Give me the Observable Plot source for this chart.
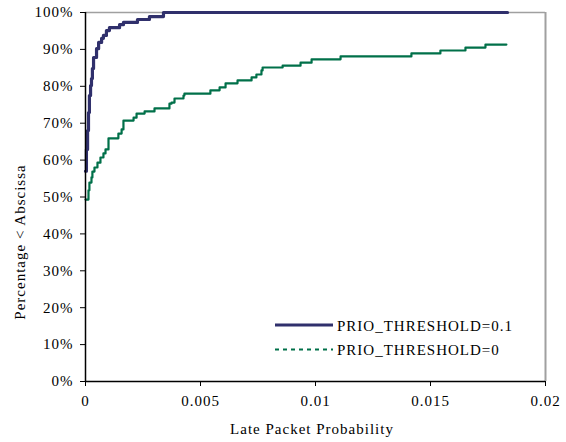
<!DOCTYPE html>
<html><head><meta charset="utf-8">
<script src="https://cdn.jsdelivr.net/npm/d3@7"></script>
<script src="https://cdn.jsdelivr.net/npm/@observablehq/plot@0.6"></script>
<style>
body{margin:0;background:#fff;}
#chart svg{font-family:"Liberation Serif","Times New Roman",serif;letter-spacing:1px;}
</style>
</head><body><div id="chart"></div>
<script>
// PRIO_THRESHOLD=0.1 (CDF of late packet probability)
const blueX = [0,0.00004,0.00009,0.00013,0.00017,0.00022,0.00026,0.0003,0.00035,0.00048,0.00057,0.0007,0.00078,0.00091,0.00104,0.00148,0.00165,0.00226,0.00278,0.00339,0.01835];
const blueY = [57,62.9,68,72.9,77.5,80.2,82.1,84.8,87.8,90.2,91.9,93,93.8,95.1,95.9,96.7,97.3,98.1,98.9,100,100];
// PRIO_THRESHOLD=0
const greenX = [0,0.00013,0.00017,0.00026,0.0003,0.00039,0.00052,0.00065,0.00078,0.00087,0.001,0.00143,0.00157,0.00165,0.00209,0.00222,0.00257,0.003,0.00365,0.00374,0.00387,0.00426,0.0043,0.00543,0.00583,0.00609,0.00661,0.00722,0.00743,0.00765,0.0077,0.00857,0.00935,0.00983,0.01109,0.01417,0.01543,0.01652,0.01739,0.0183];
const greenY = [49.3,51.8,53.9,55.3,56.9,58,59.3,60.7,61.8,62.9,65.9,67.2,68.3,70.7,71.5,72.6,73.2,74,75.3,75.6,76.7,77.5,78,78.9,79.7,80.8,81.6,82.4,83.2,84.3,85.1,85.6,86.4,87.3,88.1,88.9,89.7,90.5,91.3,91.3];
const seriesNames = ["PRIO_THRESHOLD=0.1","PRIO_THRESHOLD=0"];
const seriesColors = ["#30306c","#007049"];
const xTicks = [0,0.005,0.01,0.015,0.02];
const xTickLabels = ["0","0.005","0.01","0.015","0.02"];
const yTicks = [0,10,20,30,40,50,60,70,80,90,100];
const xTitle = "Late Packet Probability";
const yTitle = "Percentage < Abscissa";

const blue = blueX.map((x,i)=>({x, y: blueY[i]}));
const green = greenX.map((x,i)=>({x, y: greenY[i]}));

const W = 566, H = 442;
const plot = Plot.plot({
  width: W, height: H,
  marginLeft: 85, marginRight: 21, marginTop: 12, marginBottom: 61,
  style: {fontFamily: "Liberation Serif, serif", fontSize: "15px", color: "#000", background: "#fff"},
  x: {domain: [0, 0.02]},
  y: {domain: [0, 100]},
  marks: [
    Plot.ruleY([100], {stroke: "#a0a0a0", strokeWidth: 1.5}),
    Plot.ruleX([0.02], {stroke: "#a0a0a0", strokeWidth: 2}),
    Plot.line(green, {x: "x", y: "y", curve: "step-after", stroke: seriesColors[1], strokeWidth: 2.2}),
    Plot.line(blue, {x: "x", y: "y", curve: "step-after", stroke: seriesColors[0], strokeWidth: 3.2}),
    Plot.ruleX([0], {stroke: "#000", strokeWidth: 1.5}),
    Plot.ruleY([0], {stroke: "#000", strokeWidth: 1.5}),
    Plot.axisX({ticks: xTicks, tickFormat: (d)=>xTickLabels[xTicks.indexOf(d)], tickSize: 5, tickPadding: 9, label: null, fontSize: 15}),
    Plot.axisY({ticks: yTicks, tickFormat: d => d + "%", tickSize: 5, tickPadding: 7, label: null, fontSize: 15})
  ]
});
document.getElementById("chart").appendChild(plot);

const svg = d3.select(plot);
svg.append("text").attr("x", 312).attr("y", 434).attr("text-anchor","middle")
  .attr("font-size", 15).attr("fill","#000").text(xTitle);
svg.append("text").attr("transform","translate(25,242) rotate(-90)").attr("text-anchor","middle")
  .attr("font-size", 15).attr("fill","#000").text(yTitle);

const leg = svg.append("g").attr("text-anchor","start");
seriesNames.forEach((name, i) => {
  const y = 325 + i*24.5;
  leg.append("line").attr("x1",275).attr("x2",333).attr("y1",y).attr("y2",y)
    .attr("stroke", seriesColors[i]).attr("stroke-width", i===0 ? 3 : 2)
    .attr("stroke-dasharray", i===0 ? null : "4,4");
  leg.append("text").attr("x",337).attr("y",y+5.5).attr("text-anchor","start")
    .attr("font-size",15).attr("fill","#000").text(name);
});
</script>
</body></html>
